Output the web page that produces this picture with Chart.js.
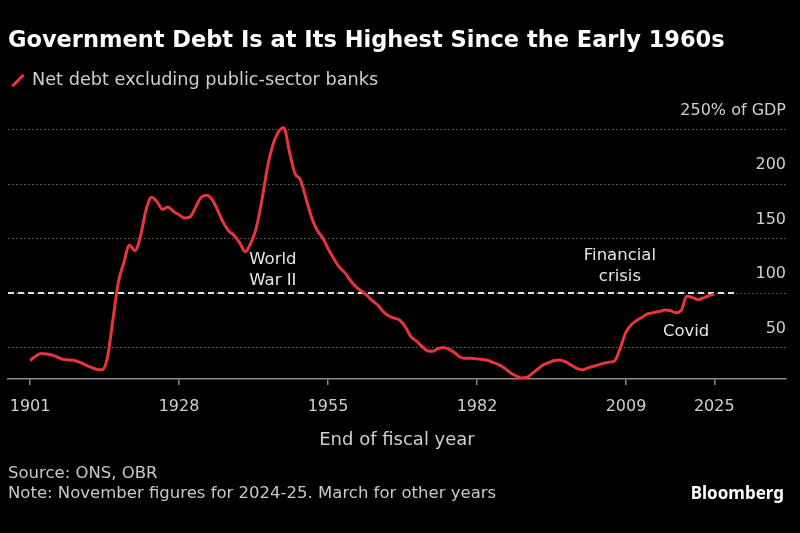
<!DOCTYPE html>
<html>
<head>
<meta charset="utf-8">
<script src="https://cdn.jsdelivr.net/npm/chart.js@4.4.1/dist/chart.umd.min.js"></script>
<style>
  html, body { margin: 0; padding: 0; background: #000; }
  #wrap { position: relative; width: 800px; height: 533px; overflow: hidden; font-family: "DejaVu Sans", sans-serif; color: #cfcfcf; }
  #chart { position: absolute; left: 0; top: 0; }
  .title { position: absolute; left: 8px; top: 26px; font: bold 22.5px "DejaVu Sans", sans-serif; color: #fff; white-space: nowrap; }
  .legend { position: absolute; left: 8px; top: 69px; font-size: 17.7px; white-space: nowrap; }
  .legend .swatch { display: inline-block; width: 16px; height: 3px; background: #e8353b; transform: rotate(-45deg); vertical-align: middle; margin: 0 6px 0 2px; }
  .footer { position: absolute; left: 8px; top: 463px; font-size: 16.5px; line-height: 20px; color: #c8c8c8; }
  .brand { position: absolute; right: 16px; top: 481px; font: bold 17px "Noto Sans", sans-serif; color: #fff; }
</style>
</head>
<body>
<div id="wrap">
  <canvas id="chart" width="800" height="533"></canvas>
  <div class="title">Government Debt Is at Its Highest Since the Early 1960s</div>
  <div class="legend"><span class="swatch"></span>Net debt excluding public-sector banks</div>
  <div class="footer">Source: ONS, OBR<br>Note: November figures for 2024-25. March for other years</div>
  <div class="brand">Bloomberg</div>
</div>
<script>
// net debt, % of GDP, end of fiscal year
const years = [
  1901, 1902, 1903, 1904, 1905, 1906, 1907, 1908, 1909, 1910,
  1911, 1912, 1913, 1914, 1915, 1916, 1917, 1918, 1919, 1920,
  1921, 1922, 1923, 1924, 1925, 1926, 1927, 1928, 1929, 1930,
  1931, 1932, 1933, 1934, 1935, 1936, 1937, 1938, 1939, 1940,
  1941, 1942, 1943, 1944, 1945, 1946, 1947, 1948, 1949, 1950,
  1951, 1952, 1953, 1954, 1955, 1956, 1957, 1958, 1959, 1960,
  1961, 1962, 1963, 1964, 1965, 1966, 1967, 1968, 1969, 1970,
  1971, 1972, 1973, 1974, 1975, 1976, 1977, 1978, 1979, 1980,
  1981, 1982, 1983, 1984, 1985, 1986, 1987, 1988, 1989, 1990,
  1991, 1992, 1993, 1994, 1995, 1996, 1997, 1998, 1999, 2000,
  2001, 2002, 2003, 2004, 2005, 2006, 2007, 2008, 2009, 2010,
  2011, 2012, 2013, 2014, 2015, 2016, 2017, 2018, 2019, 2020,
  2021, 2022, 2023, 2024, 2025
];
const debt = [
  38, 42, 44.5, 44, 43, 41, 39, 38.5, 38, 36.5,
  34, 32, 30, 29.5, 40, 75, 110, 128, 144, 139,
  152, 176, 188, 184, 177, 179, 175, 172, 169, 170,
  179, 188, 190, 186, 176, 165, 157, 153, 146, 138,
  146, 160, 185, 215, 236, 248, 252, 230, 210, 204,
  187, 170, 158, 151, 141, 132, 124, 119, 112, 106,
  102, 98, 93, 89, 83, 79, 77, 75, 69, 60,
  56, 51, 47, 46.5, 49, 50, 48, 45, 41, 40,
  40, 39.5, 39, 38, 36, 34, 31, 27, 24, 22,
  22.5, 26, 30, 34, 36, 38, 38.5, 37, 34, 31,
  29.5, 31, 32.5, 34, 35.5, 36.5, 38, 50, 64, 71,
  75, 78, 81, 82, 83, 84.5, 84, 82, 84, 97,
  96, 94, 95.5, 97.5, 99
];
const refYears = [1897, 2029];
const refLevel = [100, 100];
const xTicks = [1901, 1928, 1955, 1982, 2009, 2025];
const yTicks = [50, 100, 150, 200, 250];
const notes = [
  { lines: ["World", "War II"], year: 1945, value: 121 },
  { lines: ["Financial", "crisis"], year: 2007.9, value: 125 },
  { lines: ["Covid"], year: 2019.9, value: 64.5 }
];

const notePlugin = {
  id: "notes",
  afterDatasetsDraw(chart) {
    const ctx = chart.ctx;
    const x = chart.scales.x;
    const y = chart.scales.y;
    ctx.save();
    ctx.fillStyle = "#e6e6e6";
    ctx.font = '16.5px "DejaVu Sans"';
    ctx.textAlign = "center";
    ctx.textBaseline = "middle";
    notes.forEach(n => {
      const px = x.getPixelForValue(n.year);
      const py = y.getPixelForValue(n.value);
      n.lines.forEach((t, i) => {
        ctx.fillText(t, px, py + (i - (n.lines.length - 1) / 2) * 21);
      });
    });
    ctx.restore();
  }
};

const tickFont = { family: "DejaVu Sans", size: 16 };

new Chart(document.getElementById("chart"), {
  type: "line",
  data: {
    datasets: [{
      data: years.map((yr, i) => ({ x: yr, y: debt[i] })),
      borderColor: "#e8353b",
      borderWidth: 3,
      pointRadius: 0,
      tension: 0.3,
      cubicInterpolationMode: "monotone"
    }, {
      data: refYears.map((yr, i) => ({ x: yr, y: refLevel[i] })),
      borderColor: "#e2e2e2",
      borderWidth: 2,
      borderDash: [6, 4],
      pointRadius: 0
    }]
  },
  options: {
    responsive: false,
    animation: false,
    layout: { padding: { left: 8, right: 14, top: 119, bottom: 79 } },
    plugins: { legend: { display: false }, tooltip: { enabled: false } },
    scales: {
      x: {
        type: "linear",
        min: 1897,
        max: 2038,
        afterBuildTicks: s => { s.ticks = xTicks.map(v => ({ value: v })); },
        afterFit: s => { s.height = 75; s.paddingLeft = 0; s.paddingRight = 0; },
        grid: { drawOnChartArea: false, drawTicks: true, tickLength: 6, color: "#8a8a8a", lineWidth: 1.5 },
        border: { display: true, color: "#8a8a8a", width: 1.5 },
        ticks: { color: "#cfcfcf", font: tickFont, padding: 12, maxRotation: 0, autoSkip: false, callback: v => String(v) },
        title: { display: true, text: "End of fiscal year", color: "#cfcfcf", font: { family: "DejaVu Sans", size: 18 }, padding: { top: 6, bottom: 3 } }
      },
      y: {
        position: "right",
        min: 21,
        max: 260,
        afterBuildTicks: s => { s.ticks = yTicks.map(v => ({ value: v })); },
        afterFit: s => { s.width = 0; },
        grid: { color: "#6a6a6a", lineWidth: 1, drawTicks: false },
        border: { display: false, dash: [1.5, 2.5] },
        ticks: {
          mirror: true,
          padding: 0,
          labelOffset: -19,
          color: "#cfcfcf",
          font: tickFont,
          callback: v => (v === 250 ? "250% of GDP" : String(v))
        }
      }
    }
  },
  plugins: [notePlugin]
});
</script>
</body>
</html>
